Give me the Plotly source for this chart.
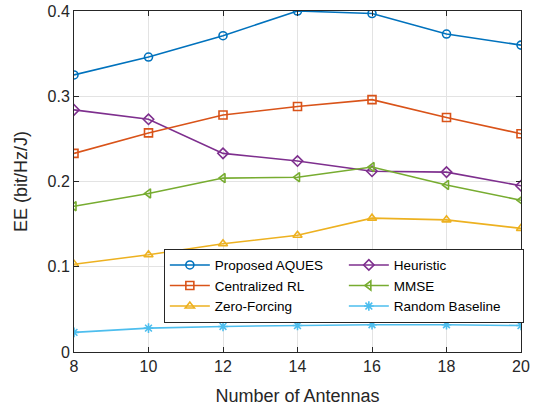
import plotly.graph_objects as go

antennas = [8, 10, 12, 14, 16, 18, 20]
proposed = [0.325, 0.346, 0.371, 0.400, 0.397, 0.373, 0.360]
centralized = [0.233, 0.257, 0.278, 0.288, 0.296, 0.275, 0.256]
heuristic = [0.284, 0.273, 0.233, 0.224, 0.212, 0.211, 0.195]
mmse = [0.171, 0.186, 0.204, 0.205, 0.217, 0.196, 0.178]
zero_forcing = [0.103, 0.114, 0.127, 0.137, 0.157, 0.155, 0.145]
random_baseline = [0.023, 0.028, 0.030, 0.031, 0.032, 0.032, 0.031]

series = [
    ("Proposed AQUES", proposed, "#0072BD", "circle-open"),
    ("Heuristic", heuristic, "#7E2F8E", "diamond-open"),
    ("Centralized RL", centralized, "#D95319", "square-open"),
    ("MMSE", mmse, "#77AC30", "triangle-left-open"),
    ("Zero-Forcing", zero_forcing, "#EDB120", "triangle-up-open"),
    ("Random Baseline", random_baseline, "#4DBEEE", "asterisk-open"),
]

fig = go.Figure()
for name, vals, color, sym in series:
    fig.add_trace(go.Scatter(
        x=antennas, y=vals, name=name, mode="lines+markers",
        line=dict(color=color, width=1.6),
        marker=dict(symbol=sym, size=8, color=color, line=dict(color=color, width=1.6)),
    ))

axis_common = dict(
    showgrid=True, gridcolor="#e3e3e3", gridwidth=1,
    showline=True, linecolor="#262626", linewidth=1, mirror="ticks",
    ticks="inside", ticklen=5, tickcolor="#262626",
    tickfont=dict(size=16, color="#262626"), zeroline=False,
    automargin=False,
)

fig.update_layout(
    width=543, height=417,
    margin=dict(l=74, r=22, t=11, b=65),
    paper_bgcolor="white", plot_bgcolor="white",
    font=dict(family="Liberation Sans, Arial, sans-serif", color="#262626"),
    xaxis=dict(range=[8, 20], tickvals=antennas,
               title=dict(text="Number of Antennas", font=dict(size=18)),
               **axis_common),
    yaxis=dict(range=[0, 0.4], tickvals=[0, 0.1, 0.2, 0.3, 0.4],
               ticktext=["0", "0.1", "0.2", "0.3", "0.4"],
               title=dict(text="EE (bit/Hz/J)", font=dict(size=18)),
               **axis_common),
    legend=dict(
        x=0.201, y=0.303, xanchor="left", yanchor="top",
        orientation="h", entrywidth=124, entrywidthmode="pixels",
        bgcolor="white", bordercolor="#262626", borderwidth=1,
        font=dict(size=13.5, color="#000000"), itemwidth=40,
        tracegroupgap=0,
    ),
    showlegend=True,
)

fig.write_html("out.html", config={"displayModeBar": False},
               post_script="document.body.style.margin='0';")
